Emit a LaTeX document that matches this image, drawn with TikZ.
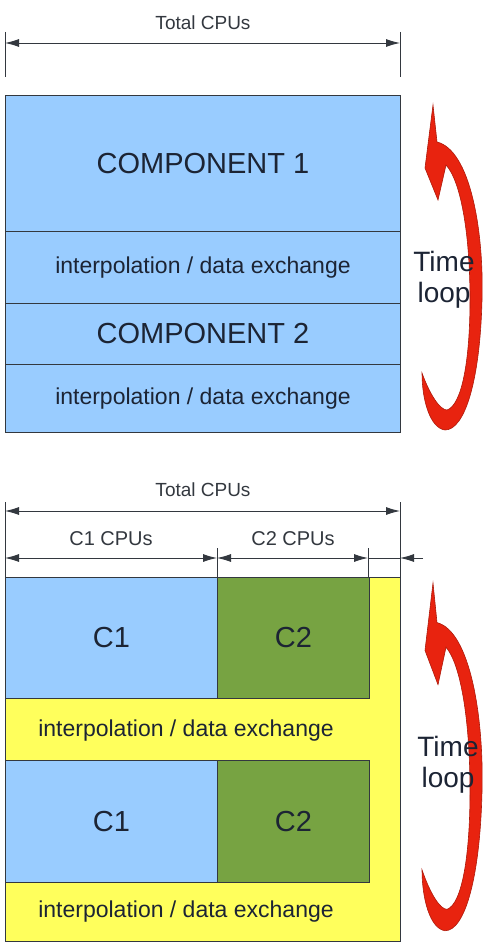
\documentclass[tikz,border=0pt]{standalone}
\usepackage{fontspec}
\setmainfont{Liberation Sans}
\usetikzlibrary{arrows.meta}

\definecolor{cellblue}{HTML}{99CCFF}
\definecolor{cellgreen}{HTML}{77A342}
\definecolor{cellyellow}{HTML}{FFFF5C}
\definecolor{loopred}{HTML}{E8230F}
\definecolor{edgegray}{HTML}{33383F}
\definecolor{inkblue}{HTML}{1C2434}

\newcommand{\cellfont}{\fontsize{29}{32}\selectfont}
\newcommand{\xchfont}{\fontsize{23}{26}\selectfont}
\newcommand{\dimfont}{\fontsize{19}{22}\selectfont}
\newcommand{\loopfont}{\fontsize{28}{31}\selectfont}

\tikzset{
  cell/.style={draw=edgegray,line width=0.9pt,inner sep=0pt,anchor=north west,text=inkblue},
  bluecell/.style={cell,fill=cellblue},
  greencell/.style={cell,fill=cellgreen},
  yellowcell/.style={cell,fill=cellyellow},
  dimtext/.style={font=\dimfont,text=edgegray,inner sep=0pt},
  tick/.style={draw=edgegray,line width=0.9pt},
  dimline/.style={draw=edgegray,line width=0.9pt,arrows={Latex[length=14pt,width=8pt]-Latex[length=14pt,width=8pt]}},
  onetip/.style={draw=edgegray,line width=0.9pt,arrows={-Latex[length=14pt,width=8pt]}},
  looptext/.style={font=\loopfont,text=inkblue,align=center,inner sep=0pt}
}

% the red bent arrow, tip at the origin
\newcommand{\timearrow}{
  \filldraw[fill=loopred,draw=loopred!75!black,line width=0.6pt]
    (0,0) -- (4,37)
    .. controls (37,45) and (51,125) .. (49,195)
    .. controls (47,275) and (32,325) .. (12,325)
    .. controls (-3,323) and (-11,295) .. (-11,268)
    .. controls (-3,290) and (7,305) .. (14,305)
    .. controls (29,300) and (37,255) .. (37,195)
    .. controls (37,125) and (27,75) .. (13,60)
    -- (5,95) -- (-8,63) -- cycle;
}

\begin{document}
\begin{tikzpicture}[x=1pt,y=-1pt]
\useasboundingbox (0,0) rectangle (485,944);

% upper picture
\node[dimtext] (total1) at (203,23) {Total CPUs};
\coordinate (t1l) at (5,43);
\coordinate (t1r) at (400,43);
\draw[tick] (5,32) -- (5,77);
\draw[tick] (400,32) -- (400,77);
\draw[dimline] (t1l) -- (t1r);

\node[bluecell,minimum width=395pt,minimum height=136pt,font=\cellfont] (comp1) at (5,95) {COMPONENT 1};
\node[bluecell,minimum width=395pt,minimum height=72pt,font=\xchfont] (xch1) at (5,231) {interpolation / data exchange};
\node[bluecell,minimum width=395pt,minimum height=61pt,font=\cellfont] (comp2) at (5,303) {COMPONENT 2};
\node[bluecell,minimum width=395pt,minimum height=68pt,font=\xchfont] (xch2) at (5,364) {interpolation / data exchange};

\begin{scope}[shift={(433,105)}]
\timearrow
\end{scope}
\node[looptext] (loop1) at (444,280) {Time\\loop};

% lower picture
\node[dimtext] (total2) at (203,490) {Total CPUs};
\coordinate (t2l) at (5,511);
\coordinate (t2r) at (400,511);
\draw[tick] (5,502) -- (5,577);
\draw[tick] (400,502) -- (400,577);
\draw[dimline] (t2l) -- (t2r);

\node[dimtext,font=\fontsize{20}{23}\selectfont] (cpu1) at (111,539) {C1 CPUs};
\node[dimtext,font=\fontsize{20}{23}\selectfont] (cpu2) at (293,539) {C2 CPUs};
\coordinate (c1l) at (5,558);
\coordinate (c1r) at (217,558);
\coordinate (c2r) at (368,558);
\coordinate (c3r) at (400,558);
\coordinate (c3out) at (423,558);
\draw[tick] (217,548) -- (217,577);
\draw[tick] (368,548) -- (368,577);
\draw[dimline] (c1l) -- (c1r);
\draw[dimline] (c1r) -- (c2r);
\draw[tick] (c2r) -- (c3r);
\draw[onetip] (c3out) -- (c3r);

\node[yellowcell,minimum width=395pt,minimum height=364pt] (frame2) at (5,577) {};
\node[bluecell,minimum width=212pt,minimum height=121pt,font=\cellfont] (c1a) at (5,577) {C1};
\node[greencell,minimum width=152pt,minimum height=121pt,font=\cellfont] (c2a) at (217,577) {C2};
\node[font=\xchfont,text=inkblue,inner sep=0pt] (xch3) at (186,731) {interpolation / data exchange};
\node[bluecell,minimum width=212pt,minimum height=122pt,font=\cellfont] (c1b) at (5,760) {C1};
\node[greencell,minimum width=152pt,minimum height=122pt,font=\cellfont] (c2b) at (217,760) {C2};
\node[font=\xchfont,text=inkblue,inner sep=0pt] (xch4) at (186,912) {interpolation / data exchange};

\begin{scope}[shift={(433,583)},yscale=1.07]
\timearrow
\end{scope}
\node[looptext] (loop2) at (448,765) {Time\\loop};
\end{tikzpicture}
\end{document}
